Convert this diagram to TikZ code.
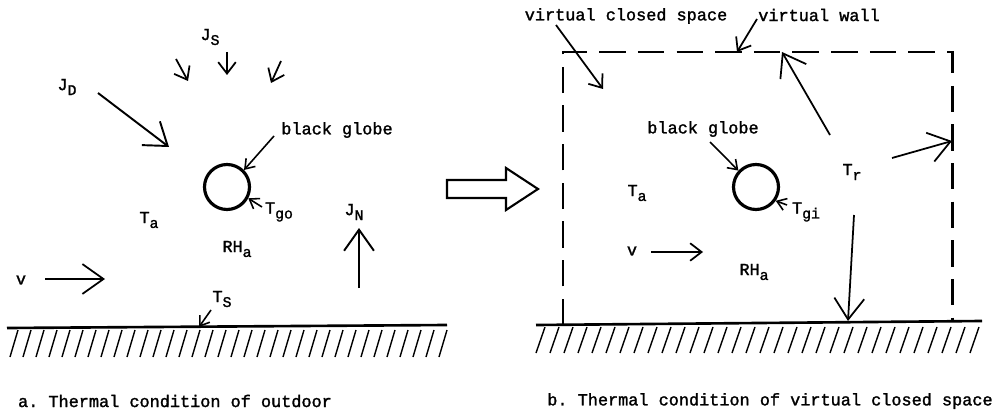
\documentclass[tikz,border=0pt]{standalone}
\usepackage{fontspec}
\setmonofont{Liberation Mono}[FakeBold=1.6]
\usepackage{tikz}
\usetikzlibrary{arrows.meta}

\newcommand{\lowsub}[1]{\raisebox{-0.55ex}{\fontsize{8.4}{9}\selectfont#1}}

\tikzset{
  lbl/.style={font=\ttfamily\fontsize{9.6}{11}\selectfont, inner sep=1pt},
  bigray/.style={-{Straight Barb[length=12pt,width=17pt]}, line width=1pt},
  midray/.style={-{Straight Barb[length=6.5pt,width=10pt]}, line width=1pt},
  smallray/.style={-{Straight Barb[length=5pt,width=7pt]}, line width=0.9pt},
  globe/.style={circle, draw, line width=1.8pt, minimum size=0.9cm, inner sep=0pt},
  ground/.style={line width=1.5pt},
  hatch/.style={line width=0.8pt},
  wall/.style={line width=1.7pt, dash pattern=on 15pt off 7pt}
}

\begin{document}
\begin{tikzpicture}[x=0.02cm, y=-0.02cm]
\useasboundingbox (0,0) rectangle (1001,412);


\node[globe] (globeA) at (227,187) {};

\node[lbl] (JS) at (210,37) {J\lowsub{S}};
\node[lbl] (JD) at (67,87) {J\lowsub{D}};
\node[lbl] (blackA) at (337,130) {black globe};
\node[lbl] (Tgo) at (279,212) {T\lowsub{go}};
\node[lbl] (TaA) at (149,220) {T\lowsub{a}};
\node[lbl] (RHaA) at (237,249) {RH\lowsub{a}};
\node[lbl] (JN) at (354,212) {J\lowsub{N}};
\node[lbl] (vA) at (21,280) {v};
\node[lbl] (Ts) at (222,299) {T\lowsub{S}};
\node[lbl] (capA) at (175,401) {a. Thermal condition of outdoor};


\coordinate (S1t) at (176,59);  \coordinate (S1h) at (188,81);
\coordinate (S2t) at (227,52);  \coordinate (S2h) at (227,75);
\coordinate (S3t) at (281,61);  \coordinate (S3h) at (271,83);
\draw[midray] (S1t) -- (S1h);
\draw[midray] (S2t) -- (S2h);
\draw[midray] (S3t) -- (S3h);

\coordinate (Dt) at (98,93);
\coordinate (Dh) at (169,147);
\draw[bigray, line width=1.1pt] (Dt) -- (Dh);

\coordinate (bAt) at (274,136);
\draw[smallray] (bAt) -- (globeA.45);
\coordinate (goT) at (262,207);
\draw[smallray] (goT) -- (globeA.-28);

\coordinate (Nt) at (359,288);
\coordinate (Nh) at (359,228);
\draw[bigray, line width=1.1pt] (Nt) -- (Nh);

\coordinate (vAt) at (45,279);
\coordinate (vAh) at (105,279);
\draw[bigray] (vAt) -- (vAh);

\coordinate (groundA0) at (7,328);
\coordinate (groundA1) at (447,325);
\coordinate (sA) at (199,327);
\coordinate (sAt) at (211,310);
\draw[smallray] (sAt) -- (sA);
\draw[ground] (groundA0) -- (groundA1);
\foreach \x in {18,31,...,447}
  \draw[hatch] (\x,330) -- ++(-8,27);


\draw[line width=1.2pt, line join=miter]
  (447,180) -- (506,180) -- (506,168) -- (538,189) -- (506,210) -- (506,198) -- (447,198) -- cycle;


\node[globe] (globeB) at (756,187) {};

\node[lbl] (vcs) at (626,16) {virtual closed space};
\node[lbl] (vwall) at (819,15) {virtual wall};
\node[lbl] (blackB) at (703,129) {black globe};
\node[lbl] (TaB) at (637,193) {T\lowsub{a}};
\node[lbl] (Tgi) at (806,212) {T\lowsub{gi}};
\node[lbl] (Tr) at (852,172) {T\lowsub{r}};
\node[lbl] (vB) at (632,251) {v};
\node[lbl] (RHaB) at (754,272) {RH\lowsub{a}};
\node[lbl] (capB) at (770,401) {b. Thermal condition of virtual closed space};


\coordinate (wallBL) at (563,325);
\coordinate (wallTL) at (563,52);
\coordinate (wallTR) at (952,52);
\coordinate (wallBR) at (952,321);
\draw[wall] (wallBL) -- (wallTL) -- (wallTR) -- (wallBR);

\coordinate (vcsT) at (556,25);
\coordinate (vcsH) at (603,89);
\draw[midray] (vcsT) -- (vcsH);
\coordinate (vwT) at (757,19);
\coordinate (vwH) at (737,52);
\draw[midray] (vwT) -- (vwH);

\coordinate (bBt) at (710,142);
\draw[smallray] (bBt) -- (globeB.137);
\coordinate (giT) at (787,205);
\draw[smallray] (giT) -- (globeB.-35);

\coordinate (rUt) at (830,135);
\coordinate (rUh) at (782,52);
\draw[bigray] (rUt) -- (rUh);
\coordinate (rRt) at (892,158);
\coordinate (rRh) at (952,141);
\draw[bigray] (rRt) -- (rRh);
\coordinate (rDt) at (854,215);
\coordinate (rDh) at (848,321);
\draw[bigray] (rDt) -- (rDh);

\coordinate (vBt) at (651,252);
\coordinate (vBh) at (703,252);
\draw[midray] (vBt) -- (vBh);

\coordinate (groundB0) at (536,325);
\coordinate (groundB1) at (982,321);
\draw[ground] (groundB0) -- (groundB1);
\foreach \x in {545,559,...,980}
  \draw[hatch] (\x,327) -- ++(-9,26);

\end{tikzpicture}
\end{document}
